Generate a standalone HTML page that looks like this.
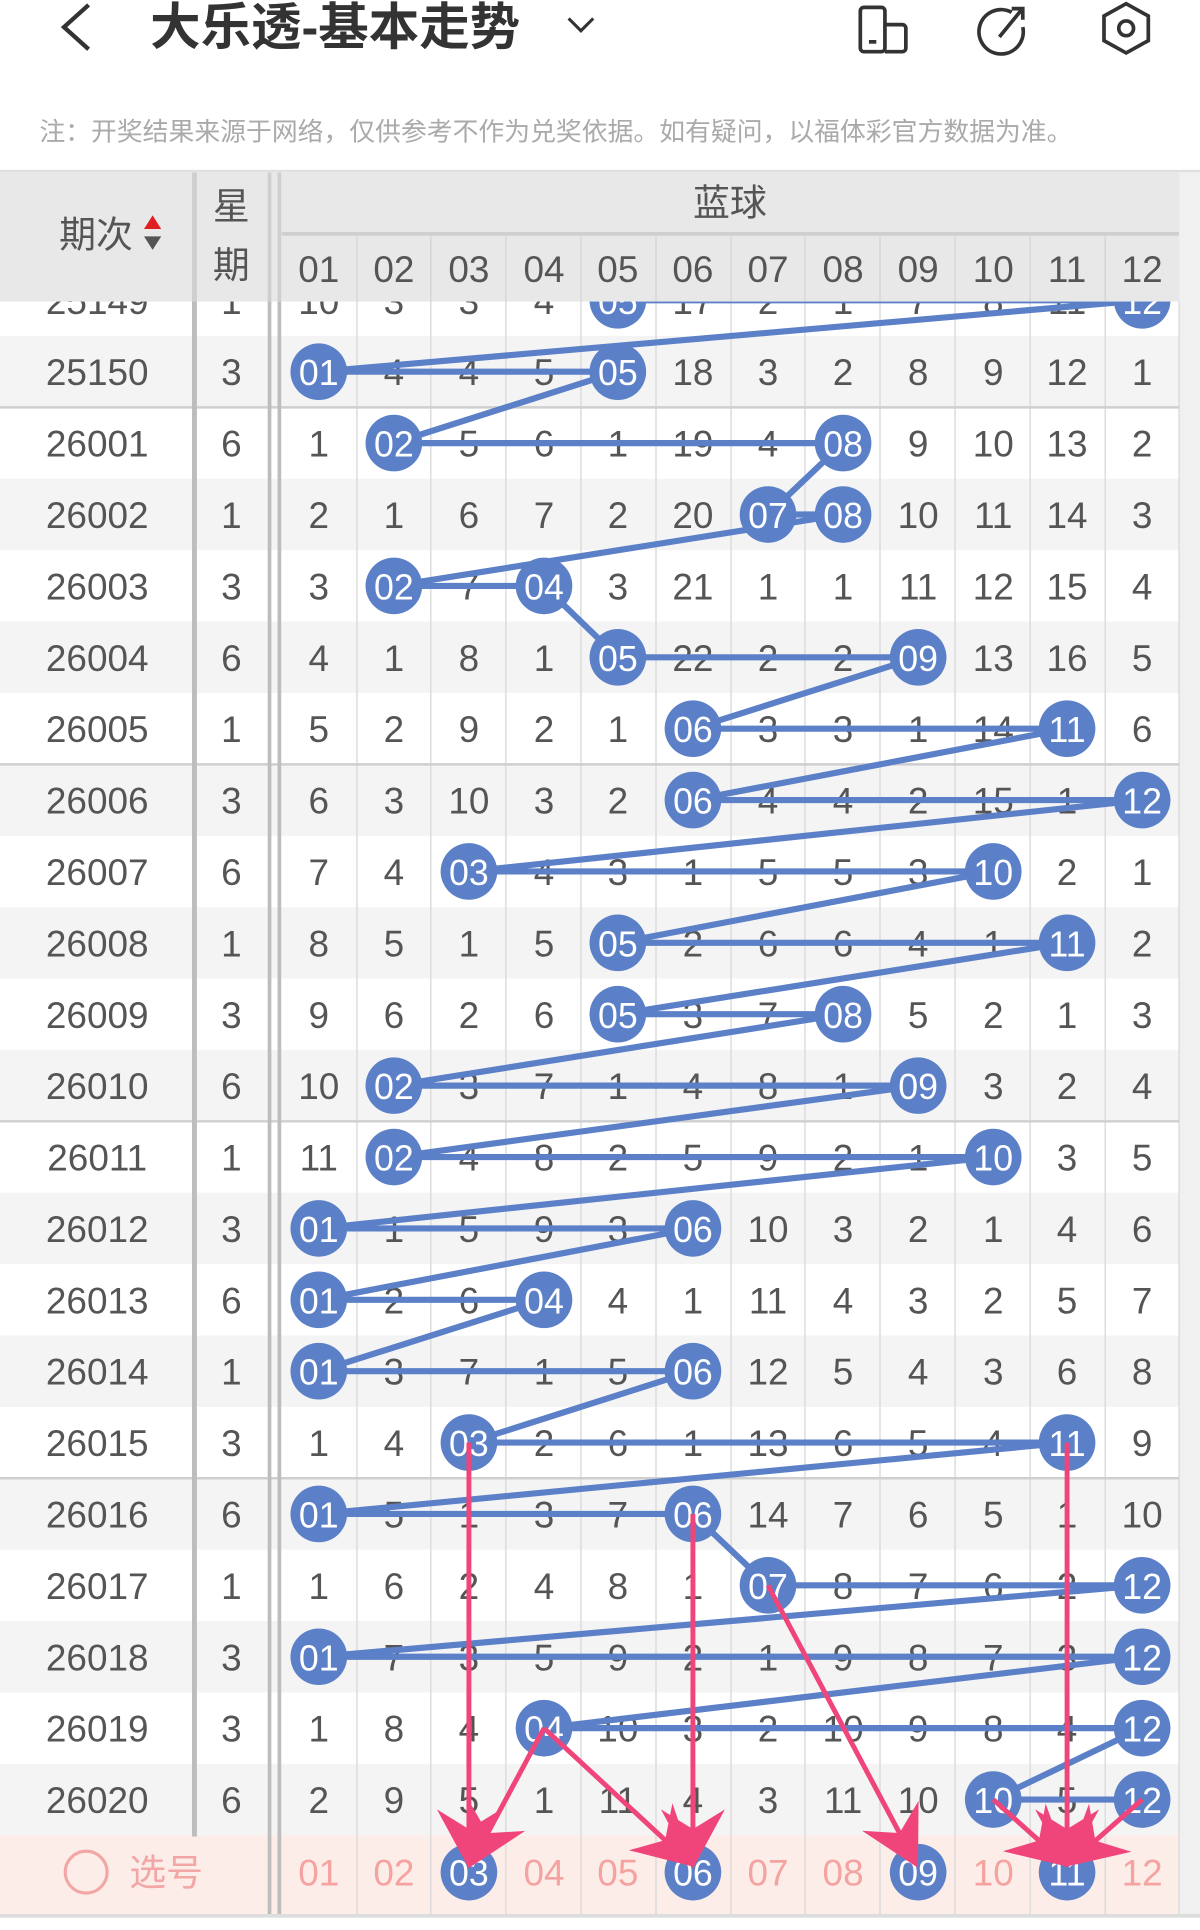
<!DOCTYPE html>
<html><head><meta charset="utf-8"><style>
html,body{margin:0;padding:0;background:#fff;width:1200px;height:1930px;overflow:hidden}
svg{display:block}
text{font-family:"Liberation Sans","Noto Sans CJK SC",sans-serif}
</style></head><body>
<svg width="1200" height="1930" viewBox="0 0 975 1568" preserveAspectRatio="none" xmlns="http://www.w3.org/2000/svg">
<defs>
<marker id="ah" markerUnits="userSpaceOnUse" markerWidth="60" markerHeight="60" viewBox="-46 -30 52 60" refX="0" refY="0" orient="auto">
<path d="M4,0 L-44,-26 L-28,0 L-44,26 z" fill="#f0457a"/>
</marker>
</defs>
<rect width="975" height="1568" fill="#fff"/>
<g fill="#f4f4f4">
<rect x="0" y="273" width="958" height="58"/><rect x="0" y="389" width="958" height="58"/><rect x="0" y="505" width="958" height="58"/><rect x="0" y="621" width="958" height="58"/><rect x="0" y="737" width="958" height="58"/><rect x="0" y="853" width="958" height="58"/><rect x="0" y="969" width="958" height="58"/><rect x="0" y="1085" width="958" height="58"/><rect x="0" y="1201" width="958" height="58"/><rect x="0" y="1317" width="958" height="58"/><rect x="0" y="1433" width="958" height="58"/>
</g>
<rect x="0" y="1491" width="958" height="64" fill="#fdede8"/>
<rect x="958" y="140" width="17" height="1418" fill="#f0f0f0"/>
<rect x="0" y="1555" width="975" height="3" fill="#ddd"/>
<g stroke="#dcdcdc" stroke-width="1.2">
<line x1="290" y1="190" x2="290" y2="1555"/><line x1="350" y1="190" x2="350" y2="1555"/><line x1="411" y1="190" x2="411" y2="1555"/><line x1="472" y1="190" x2="472" y2="1555"/><line x1="533" y1="190" x2="533" y2="1555"/><line x1="594" y1="190" x2="594" y2="1555"/><line x1="654" y1="190" x2="654" y2="1555"/><line x1="715" y1="190" x2="715" y2="1555"/><line x1="776" y1="190" x2="776" y2="1555"/><line x1="837" y1="190" x2="837" y2="1555"/><line x1="898" y1="190" x2="898" y2="1555"/><line x1="958" y1="140" x2="958" y2="1555"/>
</g>
<g stroke="#cfcfcf" stroke-width="2">
<line x1="0" y1="331" x2="958" y2="331"/><line x1="0" y1="621" x2="958" y2="621"/><line x1="0" y1="911" x2="958" y2="911"/><line x1="0" y1="1201" x2="958" y2="1201"/>
</g>
<g stroke="#bdbdbd">
<line x1="158" y1="140" x2="158" y2="1492" stroke-width="4"/>
<line x1="219" y1="140" x2="219" y2="1555" stroke-width="3"/>
<line x1="227" y1="140" x2="227" y2="1555" stroke-width="3"/>
</g>
<g font-size="30" fill="#555" text-anchor="middle">
<text x="79" y="255">25149</text><text x="188" y="255">1</text>
<text x="79" y="313">25150</text><text x="188" y="313">3</text>
<text x="79" y="371">26001</text><text x="188" y="371">6</text>
<text x="79" y="429">26002</text><text x="188" y="429">1</text>
<text x="79" y="487">26003</text><text x="188" y="487">3</text>
<text x="79" y="545">26004</text><text x="188" y="545">6</text>
<text x="79" y="603">26005</text><text x="188" y="603">1</text>
<text x="79" y="661">26006</text><text x="188" y="661">3</text>
<text x="79" y="719">26007</text><text x="188" y="719">6</text>
<text x="79" y="777">26008</text><text x="188" y="777">1</text>
<text x="79" y="835">26009</text><text x="188" y="835">3</text>
<text x="79" y="893">26010</text><text x="188" y="893">6</text>
<text x="79" y="951">26011</text><text x="188" y="951">1</text>
<text x="79" y="1009">26012</text><text x="188" y="1009">3</text>
<text x="79" y="1067">26013</text><text x="188" y="1067">6</text>
<text x="79" y="1125">26014</text><text x="188" y="1125">1</text>
<text x="79" y="1183">26015</text><text x="188" y="1183">3</text>
<text x="79" y="1241">26016</text><text x="188" y="1241">6</text>
<text x="79" y="1299">26017</text><text x="188" y="1299">1</text>
<text x="79" y="1357">26018</text><text x="188" y="1357">3</text>
<text x="79" y="1415">26019</text><text x="188" y="1415">3</text>
<text x="79" y="1473">26020</text><text x="188" y="1473">6</text>
</g>
<g font-size="30" fill="#555" text-anchor="middle">
<text y="255"><tspan x="259">10</tspan><tspan x="320">3</tspan><tspan x="381">3</tspan><tspan x="442">4</tspan><tspan x="563">17</tspan><tspan x="624">2</tspan><tspan x="685">1</tspan><tspan x="746">7</tspan><tspan x="807">8</tspan><tspan x="867">11</tspan></text>
<text y="313"><tspan x="320">4</tspan><tspan x="381">4</tspan><tspan x="442">5</tspan><tspan x="563">18</tspan><tspan x="624">3</tspan><tspan x="685">2</tspan><tspan x="746">8</tspan><tspan x="807">9</tspan><tspan x="867">12</tspan><tspan x="928">1</tspan></text>
<text y="371"><tspan x="259">1</tspan><tspan x="381">5</tspan><tspan x="442">6</tspan><tspan x="502">1</tspan><tspan x="563">19</tspan><tspan x="624">4</tspan><tspan x="746">9</tspan><tspan x="807">10</tspan><tspan x="867">13</tspan><tspan x="928">2</tspan></text>
<text y="429"><tspan x="259">2</tspan><tspan x="320">1</tspan><tspan x="381">6</tspan><tspan x="442">7</tspan><tspan x="502">2</tspan><tspan x="563">20</tspan><tspan x="746">10</tspan><tspan x="807">11</tspan><tspan x="867">14</tspan><tspan x="928">3</tspan></text>
<text y="487"><tspan x="259">3</tspan><tspan x="381">7</tspan><tspan x="502">3</tspan><tspan x="563">21</tspan><tspan x="624">1</tspan><tspan x="685">1</tspan><tspan x="746">11</tspan><tspan x="807">12</tspan><tspan x="867">15</tspan><tspan x="928">4</tspan></text>
<text y="545"><tspan x="259">4</tspan><tspan x="320">1</tspan><tspan x="381">8</tspan><tspan x="442">1</tspan><tspan x="563">22</tspan><tspan x="624">2</tspan><tspan x="685">2</tspan><tspan x="807">13</tspan><tspan x="867">16</tspan><tspan x="928">5</tspan></text>
<text y="603"><tspan x="259">5</tspan><tspan x="320">2</tspan><tspan x="381">9</tspan><tspan x="442">2</tspan><tspan x="502">1</tspan><tspan x="624">3</tspan><tspan x="685">3</tspan><tspan x="746">1</tspan><tspan x="807">14</tspan><tspan x="928">6</tspan></text>
<text y="661"><tspan x="259">6</tspan><tspan x="320">3</tspan><tspan x="381">10</tspan><tspan x="442">3</tspan><tspan x="502">2</tspan><tspan x="624">4</tspan><tspan x="685">4</tspan><tspan x="746">2</tspan><tspan x="807">15</tspan><tspan x="867">1</tspan></text>
<text y="719"><tspan x="259">7</tspan><tspan x="320">4</tspan><tspan x="442">4</tspan><tspan x="502">3</tspan><tspan x="563">1</tspan><tspan x="624">5</tspan><tspan x="685">5</tspan><tspan x="746">3</tspan><tspan x="867">2</tspan><tspan x="928">1</tspan></text>
<text y="777"><tspan x="259">8</tspan><tspan x="320">5</tspan><tspan x="381">1</tspan><tspan x="442">5</tspan><tspan x="563">2</tspan><tspan x="624">6</tspan><tspan x="685">6</tspan><tspan x="746">4</tspan><tspan x="807">1</tspan><tspan x="928">2</tspan></text>
<text y="835"><tspan x="259">9</tspan><tspan x="320">6</tspan><tspan x="381">2</tspan><tspan x="442">6</tspan><tspan x="563">3</tspan><tspan x="624">7</tspan><tspan x="746">5</tspan><tspan x="807">2</tspan><tspan x="867">1</tspan><tspan x="928">3</tspan></text>
<text y="893"><tspan x="259">10</tspan><tspan x="381">3</tspan><tspan x="442">7</tspan><tspan x="502">1</tspan><tspan x="563">4</tspan><tspan x="624">8</tspan><tspan x="685">1</tspan><tspan x="807">3</tspan><tspan x="867">2</tspan><tspan x="928">4</tspan></text>
<text y="951"><tspan x="259">11</tspan><tspan x="381">4</tspan><tspan x="442">8</tspan><tspan x="502">2</tspan><tspan x="563">5</tspan><tspan x="624">9</tspan><tspan x="685">2</tspan><tspan x="746">1</tspan><tspan x="867">3</tspan><tspan x="928">5</tspan></text>
<text y="1009"><tspan x="320">1</tspan><tspan x="381">5</tspan><tspan x="442">9</tspan><tspan x="502">3</tspan><tspan x="624">10</tspan><tspan x="685">3</tspan><tspan x="746">2</tspan><tspan x="807">1</tspan><tspan x="867">4</tspan><tspan x="928">6</tspan></text>
<text y="1067"><tspan x="320">2</tspan><tspan x="381">6</tspan><tspan x="502">4</tspan><tspan x="563">1</tspan><tspan x="624">11</tspan><tspan x="685">4</tspan><tspan x="746">3</tspan><tspan x="807">2</tspan><tspan x="867">5</tspan><tspan x="928">7</tspan></text>
<text y="1125"><tspan x="320">3</tspan><tspan x="381">7</tspan><tspan x="442">1</tspan><tspan x="502">5</tspan><tspan x="624">12</tspan><tspan x="685">5</tspan><tspan x="746">4</tspan><tspan x="807">3</tspan><tspan x="867">6</tspan><tspan x="928">8</tspan></text>
<text y="1183"><tspan x="259">1</tspan><tspan x="320">4</tspan><tspan x="442">2</tspan><tspan x="502">6</tspan><tspan x="563">1</tspan><tspan x="624">13</tspan><tspan x="685">6</tspan><tspan x="746">5</tspan><tspan x="807">4</tspan><tspan x="928">9</tspan></text>
<text y="1241"><tspan x="320">5</tspan><tspan x="381">1</tspan><tspan x="442">3</tspan><tspan x="502">7</tspan><tspan x="624">14</tspan><tspan x="685">7</tspan><tspan x="746">6</tspan><tspan x="807">5</tspan><tspan x="867">1</tspan><tspan x="928">10</tspan></text>
<text y="1299"><tspan x="259">1</tspan><tspan x="320">6</tspan><tspan x="381">2</tspan><tspan x="442">4</tspan><tspan x="502">8</tspan><tspan x="563">1</tspan><tspan x="685">8</tspan><tspan x="746">7</tspan><tspan x="807">6</tspan><tspan x="867">2</tspan></text>
<text y="1357"><tspan x="320">7</tspan><tspan x="381">3</tspan><tspan x="442">5</tspan><tspan x="502">9</tspan><tspan x="563">2</tspan><tspan x="624">1</tspan><tspan x="685">9</tspan><tspan x="746">8</tspan><tspan x="807">7</tspan><tspan x="867">3</tspan></text>
<text y="1415"><tspan x="259">1</tspan><tspan x="320">8</tspan><tspan x="381">4</tspan><tspan x="502">10</tspan><tspan x="563">3</tspan><tspan x="624">2</tspan><tspan x="685">10</tspan><tspan x="746">9</tspan><tspan x="807">8</tspan><tspan x="867">4</tspan></text>
<text y="1473"><tspan x="259">2</tspan><tspan x="320">9</tspan><tspan x="381">5</tspan><tspan x="442">1</tspan><tspan x="502">11</tspan><tspan x="563">4</tspan><tspan x="624">3</tspan><tspan x="685">11</tspan><tspan x="746">10</tspan><tspan x="867">5</tspan></text>
</g>
<circle cx="70" cy="1521" r="17" fill="none" stroke="#f2a6a6" stroke-width="2.5"/>
<text x="105" y="1532" font-size="30" fill="#f2a6a6">选号</text>
<g font-size="30" fill="#f4a3a0" text-anchor="middle">
<text y="1532"><tspan x="259">01</tspan><tspan x="320">02</tspan><tspan x="442">04</tspan><tspan x="502">05</tspan><tspan x="624">07</tspan><tspan x="685">08</tspan><tspan x="807">10</tspan><tspan x="928">12</tspan></text>
</g>
<polyline fill="none" stroke="#5b80c8" stroke-width="5" stroke-linejoin="round" points="502,244 928,244 259,302 502,302 320,360 685,360 624,418 685,418 320,476 442,476 502,534 746,534 563,592 867,592 563,650 928,650 381,708 807,708 502,766 867,766 502,824 685,824 320,882 746,882 320,940 807,940 259,998 563,998 259,1056 442,1056 259,1114 563,1114 381,1172 867,1172 259,1230 563,1230 624,1288 928,1288 259,1346 928,1346 442,1404 928,1404 807,1462 928,1462"/>
<g fill="#5b80c8">
<circle cx="502" cy="244" r="23"/><circle cx="928" cy="244" r="23"/>
<circle cx="259" cy="302" r="23"/><circle cx="502" cy="302" r="23"/>
<circle cx="320" cy="360" r="23"/><circle cx="685" cy="360" r="23"/>
<circle cx="624" cy="418" r="23"/><circle cx="685" cy="418" r="23"/>
<circle cx="320" cy="476" r="23"/><circle cx="442" cy="476" r="23"/>
<circle cx="502" cy="534" r="23"/><circle cx="746" cy="534" r="23"/>
<circle cx="563" cy="592" r="23"/><circle cx="867" cy="592" r="23"/>
<circle cx="563" cy="650" r="23"/><circle cx="928" cy="650" r="23"/>
<circle cx="381" cy="708" r="23"/><circle cx="807" cy="708" r="23"/>
<circle cx="502" cy="766" r="23"/><circle cx="867" cy="766" r="23"/>
<circle cx="502" cy="824" r="23"/><circle cx="685" cy="824" r="23"/>
<circle cx="320" cy="882" r="23"/><circle cx="746" cy="882" r="23"/>
<circle cx="320" cy="940" r="23"/><circle cx="807" cy="940" r="23"/>
<circle cx="259" cy="998" r="23"/><circle cx="563" cy="998" r="23"/>
<circle cx="259" cy="1056" r="23"/><circle cx="442" cy="1056" r="23"/>
<circle cx="259" cy="1114" r="23"/><circle cx="563" cy="1114" r="23"/>
<circle cx="381" cy="1172" r="23"/><circle cx="867" cy="1172" r="23"/>
<circle cx="259" cy="1230" r="23"/><circle cx="563" cy="1230" r="23"/>
<circle cx="624" cy="1288" r="23"/><circle cx="928" cy="1288" r="23"/>
<circle cx="259" cy="1346" r="23"/><circle cx="928" cy="1346" r="23"/>
<circle cx="442" cy="1404" r="23"/><circle cx="928" cy="1404" r="23"/>
<circle cx="807" cy="1462" r="23"/><circle cx="928" cy="1462" r="23"/>
<circle cx="381" cy="1521" r="23"/><circle cx="563" cy="1521" r="23"/><circle cx="746" cy="1521" r="23"/><circle cx="867" cy="1521" r="23"/>
</g>
<g font-size="29" fill="#fff" text-anchor="middle">
<text y="255"><tspan x="502">05</tspan><tspan x="928">12</tspan></text>
<text y="313"><tspan x="259">01</tspan><tspan x="502">05</tspan></text>
<text y="371"><tspan x="320">02</tspan><tspan x="685">08</tspan></text>
<text y="429"><tspan x="624">07</tspan><tspan x="685">08</tspan></text>
<text y="487"><tspan x="320">02</tspan><tspan x="442">04</tspan></text>
<text y="545"><tspan x="502">05</tspan><tspan x="746">09</tspan></text>
<text y="603"><tspan x="563">06</tspan><tspan x="867">11</tspan></text>
<text y="661"><tspan x="563">06</tspan><tspan x="928">12</tspan></text>
<text y="719"><tspan x="381">03</tspan><tspan x="807">10</tspan></text>
<text y="777"><tspan x="502">05</tspan><tspan x="867">11</tspan></text>
<text y="835"><tspan x="502">05</tspan><tspan x="685">08</tspan></text>
<text y="893"><tspan x="320">02</tspan><tspan x="746">09</tspan></text>
<text y="951"><tspan x="320">02</tspan><tspan x="807">10</tspan></text>
<text y="1009"><tspan x="259">01</tspan><tspan x="563">06</tspan></text>
<text y="1067"><tspan x="259">01</tspan><tspan x="442">04</tspan></text>
<text y="1125"><tspan x="259">01</tspan><tspan x="563">06</tspan></text>
<text y="1183"><tspan x="381">03</tspan><tspan x="867">11</tspan></text>
<text y="1241"><tspan x="259">01</tspan><tspan x="563">06</tspan></text>
<text y="1299"><tspan x="624">07</tspan><tspan x="928">12</tspan></text>
<text y="1357"><tspan x="259">01</tspan><tspan x="928">12</tspan></text>
<text y="1415"><tspan x="442">04</tspan><tspan x="928">12</tspan></text>
<text y="1473"><tspan x="807">10</tspan><tspan x="928">12</tspan></text>
<text y="1532"><tspan x="381">03</tspan><tspan x="563">06</tspan><tspan x="746">09</tspan><tspan x="867">11</tspan></text>
</g>
<g stroke="#f0457a" stroke-width="4" fill="none" marker-end="url(#ah)">
<line x1="381" y1="1172" x2="381" y2="1514"/>
<line x1="442" y1="1404" x2="383" y2="1514"/>
<line x1="442" y1="1404" x2="561" y2="1514"/>
<line x1="563" y1="1230" x2="563" y2="1514"/>
<line x1="624" y1="1288" x2="744" y2="1514"/>
<line x1="867" y1="1172" x2="867" y2="1514"/>
<line x1="807" y1="1462" x2="865" y2="1514"/>
<line x1="928" y1="1462" x2="869" y2="1514"/>
</g>
<rect x="0" y="140" width="958" height="105" fill="#e8e8e8"/>
<rect x="958" y="140" width="17" height="105" fill="#f0f0f0"/>
<g stroke="#cfcfcf">
<line x1="229" y1="190" x2="958" y2="190" stroke-width="3"/>
<line x1="158" y1="140" x2="158" y2="245" stroke-width="4"/>
<line x1="219" y1="140" x2="219" y2="245" stroke-width="3"/>
<line x1="227" y1="140" x2="227" y2="245" stroke-width="3"/>
</g>
<g stroke="#d6d6d6" stroke-width="1.2">
<line x1="290" y1="192" x2="290" y2="245"/><line x1="350" y1="192" x2="350" y2="245"/><line x1="411" y1="192" x2="411" y2="245"/><line x1="472" y1="192" x2="472" y2="245"/><line x1="533" y1="192" x2="533" y2="245"/><line x1="594" y1="192" x2="594" y2="245"/><line x1="654" y1="192" x2="654" y2="245"/><line x1="715" y1="192" x2="715" y2="245"/><line x1="776" y1="192" x2="776" y2="245"/><line x1="837" y1="192" x2="837" y2="245"/><line x1="898" y1="192" x2="898" y2="245"/>
</g>
<text x="48" y="201" font-size="30" fill="#555">期次</text>
<path d="M117,186 L124,175 L131,186 z" fill="#e02020"/>
<path d="M117,192 L124,203 L131,192 z" fill="#555"/>
<text x="188" y="178" font-size="30" fill="#555" text-anchor="middle">星</text>
<text x="188" y="226" font-size="30" fill="#555" text-anchor="middle">期</text>
<text x="593" y="175" font-size="30" fill="#555" text-anchor="middle">蓝球</text>
<g font-size="30" fill="#555" text-anchor="middle">
<text y="229"><tspan x="259">01</tspan><tspan x="320">02</tspan><tspan x="381">03</tspan><tspan x="442">04</tspan><tspan x="502">05</tspan><tspan x="563">06</tspan><tspan x="624">07</tspan><tspan x="685">08</tspan><tspan x="746">09</tspan><tspan x="807">10</tspan><tspan x="867">11</tspan><tspan x="928">12</tspan></text>
</g>
<rect x="0" y="0" width="975" height="140" fill="#fff"/>
<path d="M72,4 L52,22 L72,40" fill="none" stroke="#333" stroke-width="3.5"/>
<text x="122" y="36" font-size="41" font-weight="bold" fill="#333">大乐透-基本走势</text>
<path d="M462,15 L472,25 L482,15" fill="none" stroke="#333" stroke-width="2.5"/>
<rect x="699" y="6" width="20" height="36" rx="3" fill="none" stroke="#333" stroke-width="3"/>
<path d="M719,20 h14 a3,3 0 0 1 3,3 v16 a3,3 0 0 1 -3,3 h-14" fill="none" stroke="#333" stroke-width="3"/>
<line x1="706" y1="34" x2="712" y2="34" stroke="#333" stroke-width="3"/>
<path d="M822,10 A18,18 0 1 0 831,22" fill="none" stroke="#333" stroke-width="3"/>
<path d="M812,30 L830,8 M822,7 h9 v9" fill="none" stroke="#333" stroke-width="3"/>
<path d="M915,3 L933,13 L933,33 L915,43 L897,33 L897,13 z" fill="none" stroke="#333" stroke-width="3"/>
<circle cx="915" cy="23" r="6" fill="none" stroke="#333" stroke-width="3"/>
<text x="32" y="114" font-size="21" fill="#aaa">注：开奖结果来源于网络，仅供参考不作为兑奖依据。如有疑问，以福体彩官方数据为准。</text>
<rect x="0" y="138" width="975" height="2" fill="#e0e0e0"/>
</svg>
</body></html>
